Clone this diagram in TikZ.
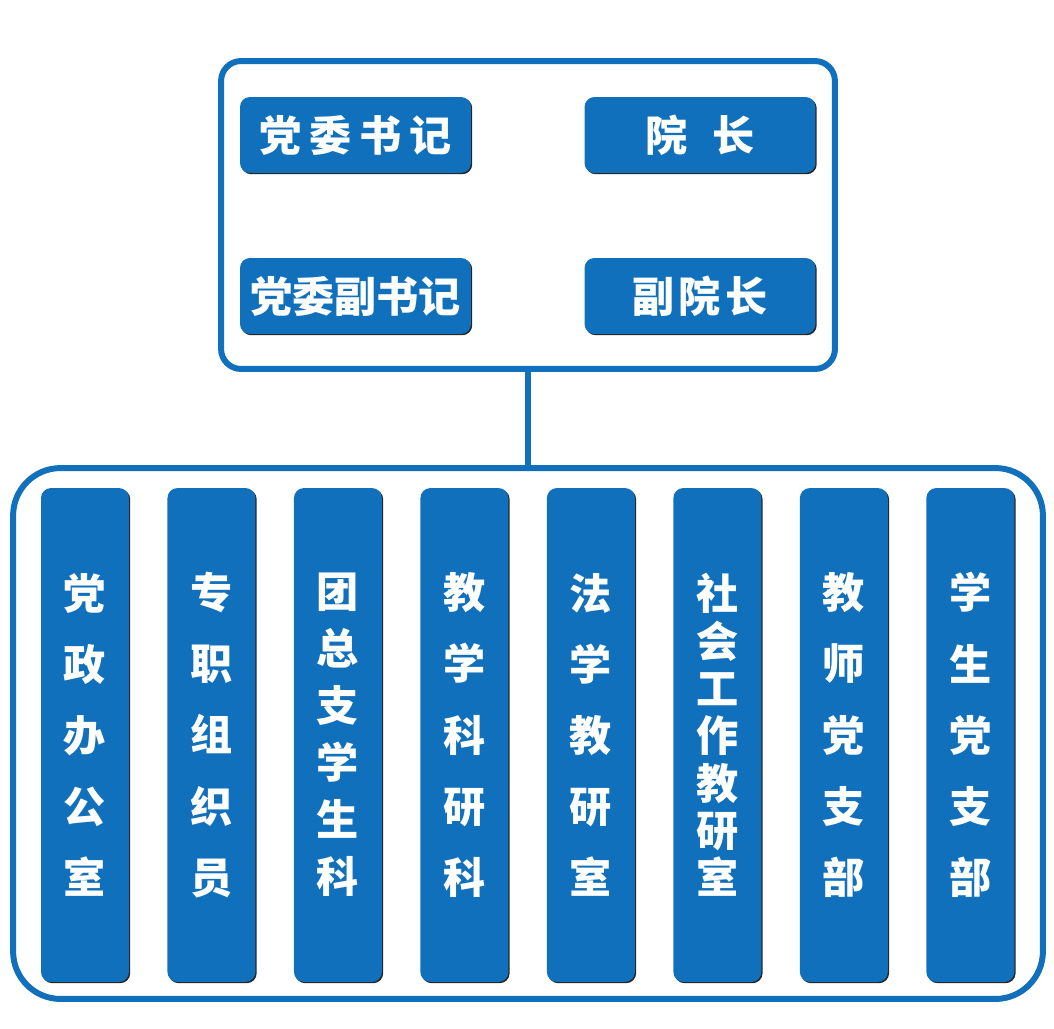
\documentclass[tikz,border=0pt]{standalone}
\usepackage{fontspec}
\newfontfamily\cjk{Noto Sans CJK SC}
\usetikzlibrary{positioning,shadows}
\definecolor{orgblue}{RGB}{16,112,188}
\tikzset{
    post/.style = {fill=orgblue, rounded corners=0.2cm, text=white, inner sep=0pt,
                 minimum width=46.2mm, minimum height=15.2mm, align=center,
                 font=\cjk\bfseries\fontsize{24}{28}\selectfont,
                 drop shadow={shadow xshift=0.7pt, shadow yshift=-0.7pt, fill=black!85, opacity=1}},
    unit/.style = {fill=orgblue, rounded corners=0.2cm, text=white, inner sep=0pt, outer sep=0pt,
                 minimum width=17.6mm, minimum height=98.8mm, align=center,
                 font=\cjk\bfseries\fontsize{24}{#1}\selectfont,
                 drop shadow={shadow xshift=0.7pt, shadow yshift=-0.7pt, fill=black!85, opacity=1}},
    frame/.style = {draw=orgblue, line width=3.4pt},
}

\begin{document}
\begin{tikzpicture}[x=0.02cm, y=-0.02cm]
\useasboundingbox (0,0) rectangle (1054,1028);
\node (lead)  [frame, rounded corners=0.4cm, minimum width=12.28cm, minimum height=6.16cm] at (528,215) {};
\node (units) [frame, rounded corners=0.95cm, minimum width=20.6cm, minimum height=10.62cm] at (528,733.5) {};
\draw[frame] (lead) -- (units);

\node (sec)   [post] at (355.5,135) {党\hspace{4.4pt}委\hspace{4.4pt}书\hspace{4.4pt}记};
\node (dean)  [post] at (700,135)   {院\hspace{14pt}长};
\node (vsec)  [post] at (355.5,296) {党委副书记};
\node (vdean) [post] at (700,296)   {副\hspace{2.7pt}院\hspace{2.7pt}长};

\node (c1) [unit=40.5] at (85,735) {党\\政\\办\\公\\室};
\node (c2) [unit=40.5, right=0.77cm of c1] {专\\职\\组\\织\\员};
\node (c3) [unit=32.4, right=0.77cm of c2] {团\\总\\支\\学\\生\\科};
\node (c4) [unit=40.5, right=0.77cm of c3] {教\\学\\科\\研\\科};
\node (c5) [unit=40.5, right=0.77cm of c4] {法\\学\\教\\研\\室};
\node (c6) [unit=26.9, right=0.77cm of c5] {社\\会\\工\\作\\教\\研\\室};
\node (c7) [unit=40.5, right=0.77cm of c6] {教\\师\\党\\支\\部};
\node (c8) [unit=40.5, right=0.77cm of c7] {学\\生\\党\\支\\部};
\end{tikzpicture}
\end{document}
